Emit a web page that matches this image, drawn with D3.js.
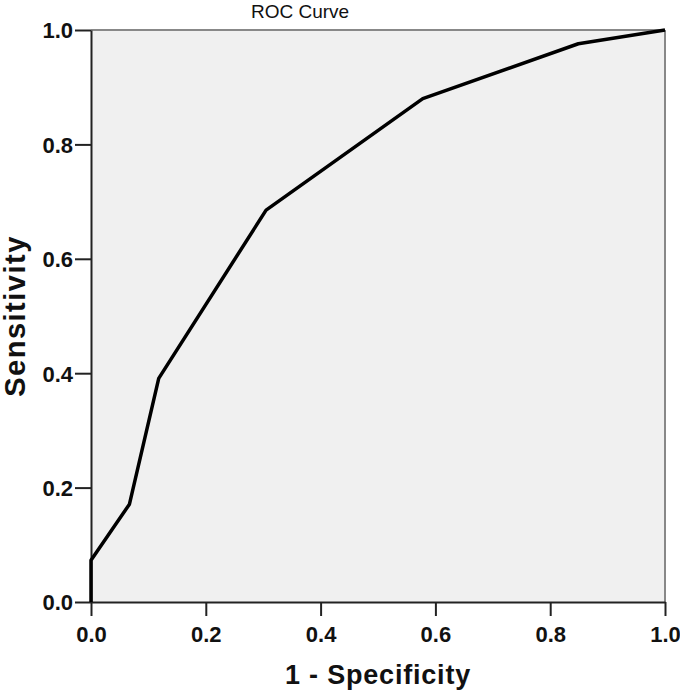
<!DOCTYPE html>
<html><head><meta charset="utf-8">
<script src="https://cdn.jsdelivr.net/npm/d3@7"></script>
<style>body{margin:0;background:#fff}svg{display:block}</style>
</head><body>
<script>
const fpr = [0, 0, 0.067, 0.118, 0.305, 0.578, 0.849, 1];
const tpr = [0, 0.073, 0.171, 0.391, 0.685, 0.880, 0.976, 1];
const ticks = [0, 0.2, 0.4, 0.6, 0.8, 1.0];
const W = 680, H = 692;
const L = 91, R = 665, T = 30, B = 602;
const FONT = "Liberation Sans, Arial, sans-serif";
const svg = d3.select("body").append("svg").attr("width", W).attr("height", H).attr("font-family", FONT);
const x = d3.scaleLinear().domain([0, 1]).range([L, R]);
const y = d3.scaleLinear().domain([0, 1]).range([B, T]);
svg.append("rect").attr("x", L).attr("y", T).attr("width", R - L).attr("height", B - T).attr("fill", "#f0f0f0");
svg.append("line").attr("x1", L).attr("x2", R).attr("y1", T).attr("y2", T).attr("stroke", "#888").attr("stroke-width", 2);
svg.append("line").attr("x1", R).attr("x2", R).attr("y1", T).attr("y2", B).attr("stroke", "#888").attr("stroke-width", 2);
const xa = svg.append("g").attr("transform", `translate(0,${B})`)
  .call(d3.axisBottom(x).tickValues(ticks).tickFormat(d3.format(".1f")).tickSize(14).tickSizeOuter(0));
const ya = svg.append("g").attr("transform", `translate(${L},0)`)
  .call(d3.axisLeft(y).tickValues(ticks).tickFormat(d3.format(".1f")).tickSize(16).tickSizeOuter(0));
[xa, ya].forEach(g => {
  g.attr("font-family", FONT).attr("font-size", 22);
  g.select(".domain").attr("stroke", "#222").attr("stroke-width", 2);
  g.selectAll(".tick line").attr("stroke", "#222").attr("stroke-width", 2);
  g.selectAll(".tick text").attr("fill", "#111").attr("font-weight", "bold");
});
xa.selectAll(".tick text").attr("y", 40).attr("dy", 0);
ya.selectAll(".tick text").attr("x", -18).attr("dy", "0.36em");
const line = d3.line().x((d, i) => x(fpr[i])).y((d, i) => y(tpr[i]));
svg.append("path").attr("d", line(fpr)).attr("fill", "none").attr("stroke", "#000").attr("stroke-width", 3.5).attr("stroke-linejoin", "round");
svg.append("text").attr("x", 300).attr("y", 18).attr("text-anchor", "middle").attr("font-size", 19).attr("fill", "#111").text("ROC Curve");
svg.append("text").attr("x", (L + R) / 2).attr("y", 684).attr("text-anchor", "middle").attr("font-size", 27).attr("font-weight", "bold").attr("letter-spacing", 0.8).attr("fill", "#111").text("1 - Specificity");
svg.append("text").attr("transform", `translate(25,${(T + B) / 2}) rotate(-90)`).attr("text-anchor", "middle").attr("font-size", 29).attr("font-weight", "bold").attr("letter-spacing", 1.5).attr("fill", "#111").text("Sensitivity");
</script>
</body></html>
